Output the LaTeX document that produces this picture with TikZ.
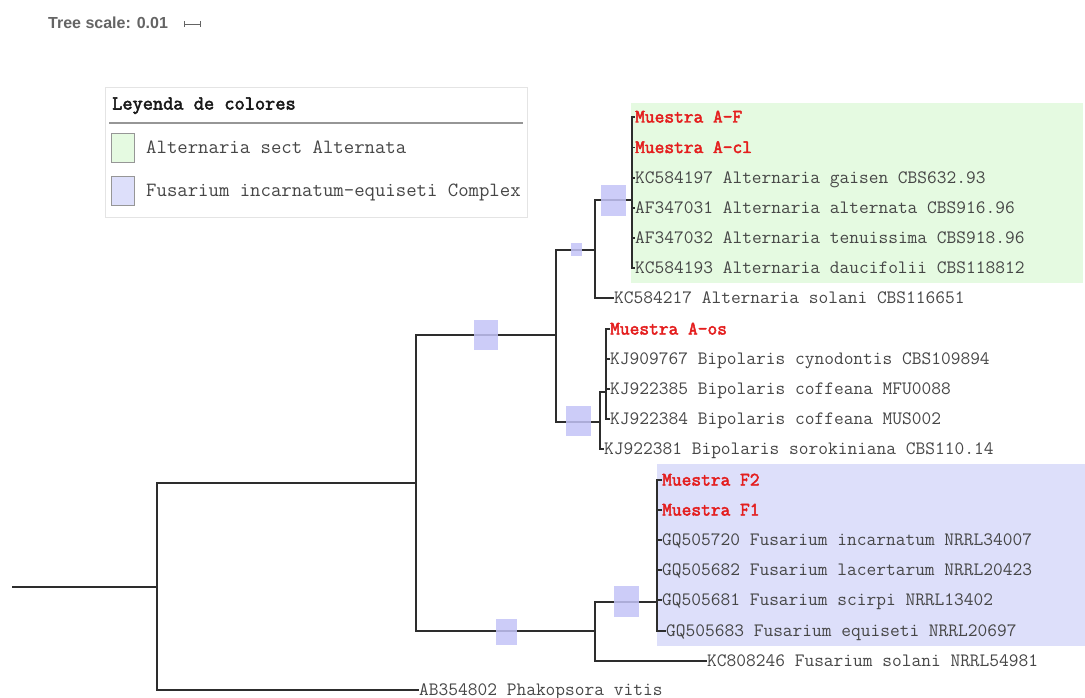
\documentclass[tikz,border=0pt]{standalone}
\usepackage{fontspec}
\setmainfont{Liberation Sans}
\setmonofont{Latin Modern Mono}
\newfontfamily\monobold{Latin Modern Mono}[FakeBold=2.6]

\definecolor{altgreen}{RGB}{229,250,225}
\definecolor{fusblue}{RGB}{221,223,250}
\definecolor{supportfill}{RGB}{195,195,247}
\definecolor{treeline}{RGB}{45,45,45}
\definecolor{leafgray}{RGB}{70,70,70}
\definecolor{sampred}{RGB}{228,30,30}
\definecolor{scalegray}{RGB}{100,100,100}
\definecolor{legendframe}{RGB}{228,228,228}
\definecolor{legendrule}{RGB}{150,150,150}

\begin{document}
\begin{tikzpicture}[x=1pt,y=-1pt,
  branch/.style={draw=treeline, line width=1.8pt},
  leaf/.style={anchor=west, inner sep=0pt, text=leafgray,
    font=\ttfamily\fontsize{18.9}{20}\selectfont, text height=13pt, text depth=2pt},
  sample/.style={leaf, text=sampred,
    font=\monobold\fontsize{18.9}{20}\selectfont},
  support/.style={fill=supportfill, fill opacity=0.85, draw=none, inner sep=0pt},
  legtext/.style={anchor=west, inner sep=0pt, text=leafgray,
    font=\ttfamily\fontsize{20.2}{22}\selectfont, text height=13pt, text depth=2pt},
  legsq/.style={draw=legendrule, line width=1pt, inner sep=0pt,
    minimum width=23pt, minimum height=29pt},
  scalebar/.style={draw=scalegray, line width=0.8pt},
]
\useasboundingbox (0,0) rectangle (1085,698);

% clade highlight bands
\fill[altgreen] (631,103) rectangle (1083,283);
\fill[fusblue] (657,464) rectangle (1085,646);

% tree scale
\node[anchor=west, inner sep=0pt, text=scalegray,
  font=\bfseries\fontsize{16}{18}\selectfont] (ts) at (48,23) {Tree scale: 0.01};
\coordinate (sb1) at (184,24);
\coordinate (sb2) at (200,24);
\draw[scalebar] (sb1) -- (sb2);
\draw[scalebar] ([yshift=-3pt]sb1) -- ([yshift=3pt]sb1);
\draw[scalebar] ([yshift=-3pt]sb2) -- ([yshift=3pt]sb2);

% legend
\draw[legendframe, fill=white, line width=0.8pt] (105,87) rectangle (527,217);
\node[anchor=west, inner sep=0pt, text={rgb,255:red,25;green,25;blue,25},
  font=\monobold\fontsize{19.8}{21}\selectfont,
  text height=13pt, text depth=2pt] (legtitle) at (112,104) {Leyenda de colores};
\draw[legendrule, line width=1.6pt] (109,123) -- (523,123);
\node[legsq, fill=altgreen] (lsq1) at (122.5,148.5) {};
\node[legsq, fill=fusblue] (lsq2) at (122.5,191.5) {};
\node[legtext] (lt1) at (146,148) {Alternaria sect Alternata};
\node[legtext] (lt2) at (146,191) {Fusarium incarnatum-equiseti Complex};

% internal nodes (x of the vertical bar, y of the stem)
\coordinate (r)  at (12,587);
\coordinate (n0) at (157,587);
\coordinate (n1) at (416,483);
\coordinate (n2) at (556,335);
\coordinate (n3) at (595,631);
\coordinate (n4) at (595,250);
\coordinate (n5) at (600,422);
\coordinate (n6) at (632,200);
\coordinate (n7) at (606,392);
\coordinate (n8) at (657,602);

% leaves
\node[sample] (a1) at (635,117) {Muestra A-F};
\node[sample] (a2) at (635,147.5) {Muestra A-cl};
\node[leaf] (a3) at (635,178) {KC584197 Alternaria gaisen CBS632.93};
\node[leaf] (a4) at (635,208) {AF347031 Alternaria alternata CBS916.96};
\node[leaf] (a5) at (635,238) {AF347032 Alternaria tenuissima CBS918.96};
\node[leaf] (a6) at (635,268) {KC584193 Alternaria daucifolii CBS118812};
\node[leaf] (a7) at (614,298) {KC584217 Alternaria solani CBS116651};
\node[sample] (b1) at (610,329) {Muestra A-os};
\node[leaf] (b2) at (610,359) {KJ909767 Bipolaris cynodontis CBS109894};
\node[leaf] (b3) at (610,389) {KJ922385 Bipolaris coffeana MFU0088};
\node[leaf] (b4) at (610,419) {KJ922384 Bipolaris coffeana MUS002};
\node[leaf] (b5) at (604,449) {KJ922381 Bipolaris sorokiniana CBS110.14};
\node[sample] (f1) at (662,480) {Muestra F2};
\node[sample] (f2) at (662,510) {Muestra F1};
\node[leaf] (f3) at (662,540) {GQ505720 Fusarium incarnatum NRRL34007};
\node[leaf] (f4) at (662,570) {GQ505682 Fusarium lacertarum NRRL20423};
\node[leaf] (f5) at (662,600) {GQ505681 Fusarium scirpi NRRL13402};
\node[leaf] (f6) at (666,631) {GQ505683 Fusarium equiseti NRRL20697};
\node[leaf] (f7) at (707,661) {KC808246 Fusarium solani NRRL54981};
\node[leaf] (p1) at (419,690) {AB354802 Phakopsora vitis};

% branches
\draw[branch] (r) -- (n0);
\draw[branch] (n0) |- (n1);
\draw[branch] (n0) |- (p1.west);
\draw[branch] (n1) |- (n2);
\draw[branch] (n1) |- (n3);
\draw[branch] (n2) |- (n4);
\draw[branch] (n2) |- (n5);
\draw[branch] (n4) |- (n6);
\draw[branch] (n4) |- (a7.west);
\foreach \c in {a1,a2,a3,a4,a5,a6} \draw[branch] (n6) |- (\c.west);
\draw[branch] (n5) |- (n7);
\draw[branch] (n5) |- (b5.west);
\foreach \c in {b1,b2,b3,b4} \draw[branch] (n7) |- (\c.west);
\draw[branch] (n3) |- (n8);
\draw[branch] (n3) |- (f7.west);
\foreach \c in {f1,f2,f3,f4,f5,f6} \draw[branch] (n8) |- (\c.west);

% support markers on branches
\node[support, minimum width=24pt, minimum height=30pt] (s1) at (486,335) {};
\node[support, minimum width=11pt, minimum height=13pt] (s2) at (576.5,249.5) {};
\node[support, minimum width=25pt, minimum height=31pt] (s3) at (613.5,200.5) {};
\node[support, minimum width=25pt, minimum height=30pt] (s4) at (578.5,421) {};
\node[support, minimum width=21pt, minimum height=26pt] (s5) at (506,632) {};
\node[support, minimum width=25pt, minimum height=31pt] (s6) at (626.5,601.5) {};
\end{tikzpicture}
\end{document}
